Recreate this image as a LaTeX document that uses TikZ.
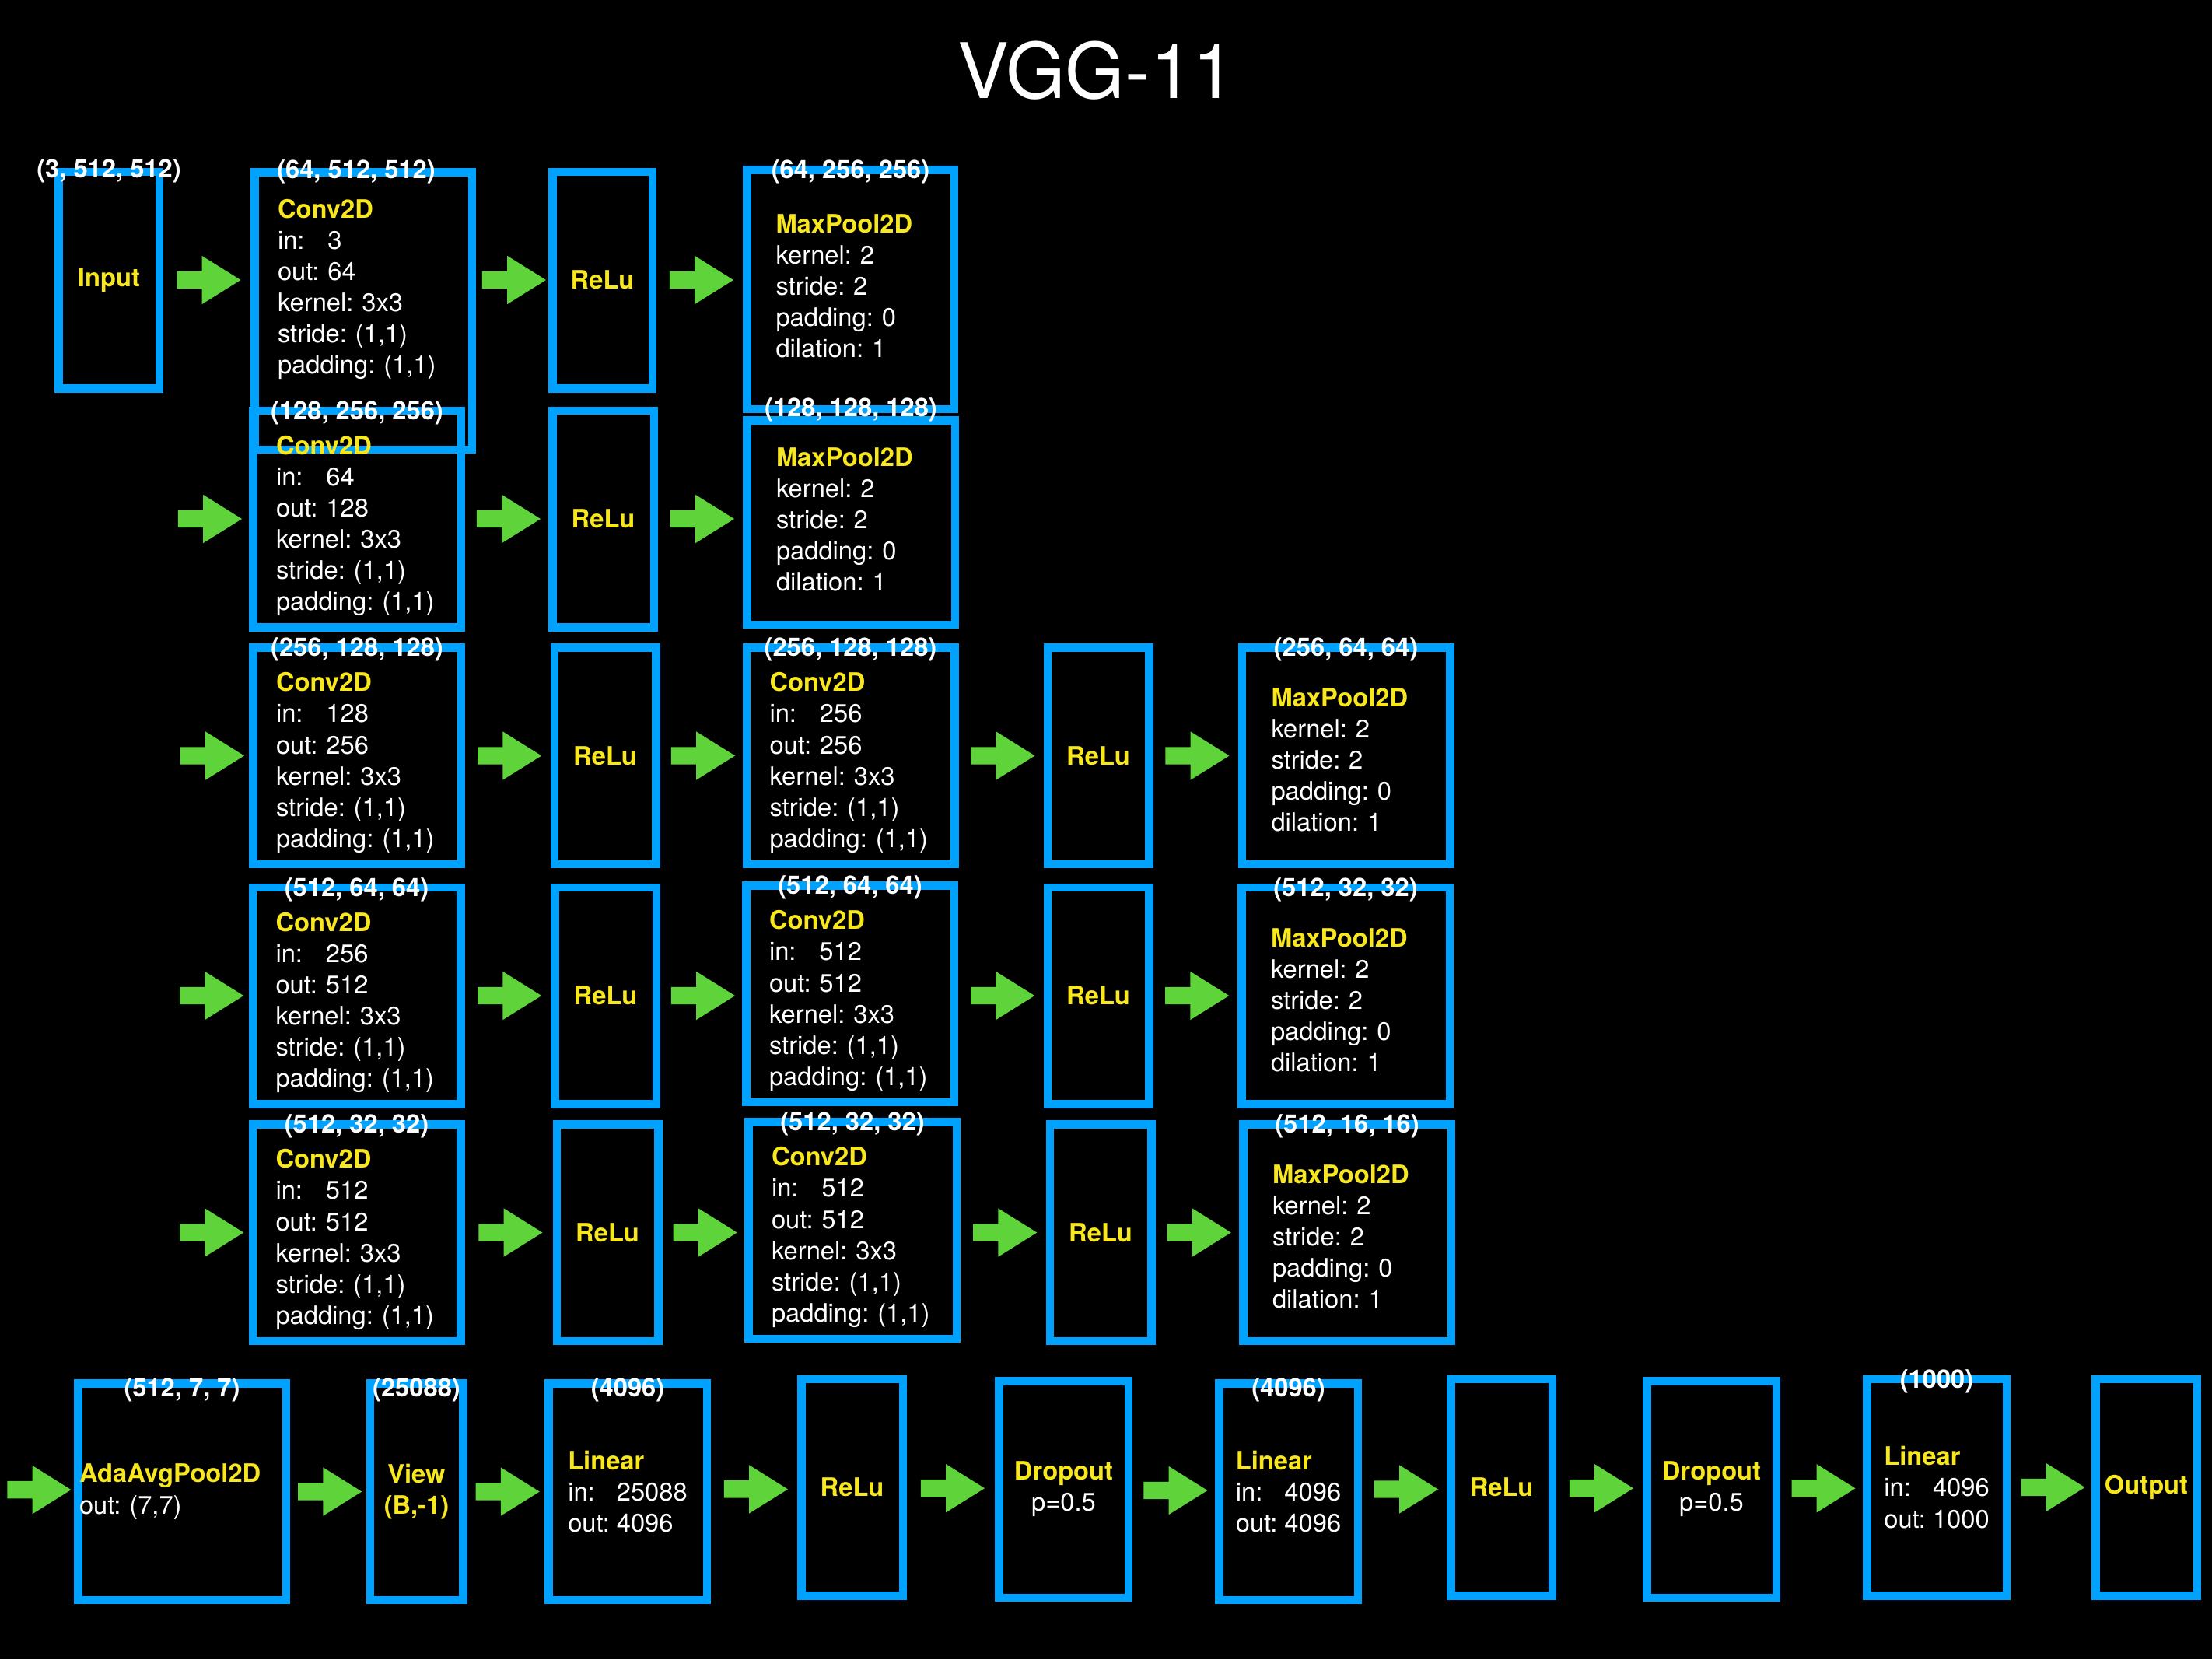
\documentclass[tikz,border=0pt]{standalone}
\usepackage{fontspec}
\setmainfont{TeX Gyre Heros}
\usepackage{xcolor}
\usepackage{tikz}
\usetikzlibrary{shapes.arrows}
\definecolor{netblue}{HTML}{00A2FF}
\definecolor{flowgreen}{HTML}{5FD43A}
\definecolor{lyryellow}{HTML}{F8E71C}
\newcommand{\bodyfont}{\fontsize{9.3}{11.4}\selectfont}
\newcommand{\lyr}[1]{{\bfseries\color{lyryellow}#1}}
\newcommand{\inlbl}{\leavevmode\rlap{in:}\hphantom{out:~}}
\newcommand{\convinfo}[2]{\lyr{Conv2D}\\\inlbl#1\\out:~#2\\kernel:~3x3\\stride:~(1,1)\\padding:~(1,1)}
\newcommand{\poolinfo}{\lyr{MaxPool2D}\\kernel:~2\\stride:~2\\padding:~0\\dilation:~1}
\newcommand{\linearinfo}[2]{\lyr{Linear}\\\inlbl#1\\out:~#2}
\tikzset{
  every node/.style={font=\bodyfont,text=white},
  layer/.style={draw=netblue,line width=1.05mm,outer sep=0.525mm,inner sep=0pt,minimum height=2.785cm},
  convbox/.style={layer,minimum width=2.675cm,text width=2.08cm,align=left,text height=12pt},
  poolbox/.style={layer,minimum width=2.675cm,text width=1.92cm,align=left,text height=10pt},
  fcbox/.style={layer,align=left},
  actbox/.style={layer,minimum width=1.305cm,align=center,font=\bodyfont\bfseries,text=lyryellow},
  dropbox/.style={layer,minimum width=1.665cm,align=center},
  dimlbl/.style={font=\bodyfont\bfseries,anchor=center,inner sep=0pt,outer sep=0pt,yshift=-0.08cm},
  flow/.style={single arrow,fill=flowgreen,inner xsep=0pt,inner ysep=0.105cm,outer sep=0pt,minimum height=0.82cm,
    single arrow head extend=0.2cm,single arrow tip angle=64,xshift=-0.065cm},
  title/.style={font=\fontsize{28}{34}\selectfont}
}
\begin{document}
\begin{tikzpicture}[x=1cm,y=-1cm]
  \useasboundingbox (0,0) rectangle (28.44,21.33);
  \fill[black] (0,0) rectangle (28.44,21.33);
  \node[title,anchor=base] (title) at (14.10,1.26) {VGG-11};

  % block 1
  \node[actbox,minimum width=1.295cm,label={[dimlbl,yshift=0.035cm]north:{(3, 512, 512)}}] (in1) at (1.40,3.60) {Input};
  \node[convbox,minimum width=2.795cm,minimum height=3.565cm,text width=2.20cm,text depth=2.80cm,
    label={[dimlbl,xshift=-0.09cm,yshift=0.035cm]north:{(64, 512, 512)}}] (conv1) at (4.67,3.995) {\convinfo{3}{64}};
  \node[actbox,minimum width=1.285cm] (relu1) at (7.745,3.60) {ReLu};
  \node[poolbox,minimum width=2.665cm,minimum height=3.075cm,text depth=1.80cm,label={[dimlbl]north:{(64, 256, 256)}}] (pool1) at (10.935,3.72) {\poolinfo};

  % block 2
  \coordinate (r2in) at (2.15,6.67);
  \node[convbox,label={[dimlbl]north:{(128, 256, 256)}}] (conv2) at (4.59,6.67) {\convinfo{64}{128}};
  \node[actbox] (relu2) at (7.755,6.67) {ReLu};
  \node[poolbox,minimum height=2.625cm,text depth=1.80cm,label={[dimlbl,yshift=0.16cm]north:{(128, 128, 128)}}] (pool2) at (10.94,6.715) {\poolinfo};

  % block 3
  \coordinate (r3in) at (2.21,9.715);
  \node[convbox,label={[dimlbl]north:{(256, 128, 128)}}] (conv3a) at (4.59,9.715) {\convinfo{128}{256}};
  \node[actbox] (relu3a) at (7.78,9.715) {ReLu};
  \node[convbox,label={[dimlbl]north:{(256, 128, 128)}}] (conv3b) at (10.935,9.715) {\convinfo{256}{256}};
  \node[actbox] (relu3b) at (14.12,9.715) {ReLu};
  \node[poolbox,label={[dimlbl]north:{(256, 64, 64)}}] (pool3) at (17.305,9.715) {\poolinfo};

  % block 4
  \coordinate (r4in) at (2.20,12.80);
  \node[convbox,label={[dimlbl]north:{(512, 64, 64)}}] (conv4a) at (4.585,12.80) {\convinfo{256}{512}};
  \node[actbox] (relu4a) at (7.785,12.80) {ReLu};
  \node[convbox,label={[dimlbl]north:{(512, 64, 64)}}] (conv4b) at (10.93,12.775) {\convinfo{512}{512}};
  \node[actbox] (relu4b) at (14.12,12.80) {ReLu};
  \node[poolbox,label={[dimlbl]north:{(512, 32, 32)}}] (pool4) at (17.30,12.80) {\poolinfo};

  % block 5
  \coordinate (r5in) at (2.20,15.845);
  \node[convbox,label={[dimlbl]north:{(512, 32, 32)}}] (conv5a) at (4.585,15.845) {\convinfo{512}{512}};
  \node[actbox] (relu5a) at (7.81,15.845) {ReLu};
  \node[convbox,label={[dimlbl]north:{(512, 32, 32)}}] (conv5b) at (10.96,15.815) {\convinfo{512}{512}};
  \node[actbox] (relu5b) at (14.15,15.845) {ReLu};
  \node[poolbox,label={[dimlbl]north:{(512, 16, 16)}}] (pool5) at (17.32,15.845) {\poolinfo};

  % classifier
  \coordinate (r6in) at (0.01,19.145);
  \node[fcbox,minimum width=2.675cm,text width=2.64cm,label={[dimlbl,yshift=-0.06cm]north:{(512, 7, 7)}}] (ada) at (2.34,19.175) {\lyr{AdaAvgPool2D}\\out:~(7,7)};
  \node[actbox,minimum width=1.195cm,label={[dimlbl,yshift=-0.06cm,text=white]north:{(25088)}}] (view) at (5.355,19.175) {View\\(B,-1)};
  \node[fcbox,minimum width=2.035cm,label={[dimlbl,yshift=-0.06cm]north:{(4096)}}] (lin1) at (8.07,19.175) {\linearinfo{25088}{4096}};
  \node[actbox] (relu6a) at (10.955,19.12) {ReLu};
  \node[dropbox] (drop1) at (13.675,19.145) {\lyr{Dropout}\\p=0.5};
  \node[fcbox,minimum width=1.785cm,label={[dimlbl,yshift=-0.06cm]north:{(4096)}}] (lin2) at (16.565,19.175) {\linearinfo{4096}{4096}};
  \node[actbox] (relu6b) at (19.305,19.12) {ReLu};
  \node[dropbox] (drop2) at (22.005,19.145) {\lyr{Dropout}\\p=0.5};
  \node[fcbox,minimum width=1.795cm,label={[dimlbl]north:{(1000)}}] (lin3) at (24.90,19.12) {\linearinfo{4096}{1000}};
  \node[actbox] (out) at (27.595,19.12) {Output};

  % flow arrows
  \path (in1) -- node[flow,midway]{} (in1 -| conv1.west);
  \path (conv1.east |- relu1) -- node[flow,midway]{} (relu1);
  \path (relu1) -- node[flow,midway]{} (relu1 -| pool1.west);

  \path (r2in) -- node[flow,midway]{} (conv2);
  \path (conv2) -- node[flow,midway]{} (relu2);
  \path (relu2) -- node[flow,midway]{} (relu2 -| pool2.west);

  \path (r3in) -- node[flow,midway]{} (conv3a);
  \path (conv3a) -- node[flow,midway]{} (relu3a);
  \path (relu3a) -- node[flow,midway]{} (conv3b);
  \path (conv3b) -- node[flow,midway]{} (relu3b);
  \path (relu3b) -- node[flow,midway]{} (pool3);

  \path (r4in) -- node[flow,midway]{} (conv4a);
  \path (conv4a) -- node[flow,midway]{} (relu4a);
  \path (relu4a) -- node[flow,midway]{} (relu4a -| conv4b.west);
  \path (conv4b.east |- relu4b) -- node[flow,midway]{} (relu4b);
  \path (relu4b) -- node[flow,midway]{} (pool4);

  \path (r5in) -- node[flow,midway]{} (conv5a);
  \path (conv5a) -- node[flow,midway]{} (relu5a);
  \path (relu5a) -- node[flow,midway]{} (relu5a -| conv5b.west);
  \path (conv5b.east |- relu5b) -- node[flow,midway]{} (relu5b);
  \path (relu5b) -- node[flow,midway]{} (pool5);

  \path (r6in) -- node[flow,midway]{} (ada);
  \path (ada) -- node[flow,midway]{} (view);
  \path (view) -- node[flow,midway]{} (lin1);
  \path (lin1) -- node[flow,midway]{} (relu6a);
  \path (relu6a) -- node[flow,midway]{} (drop1);
  \path (drop1) -- node[flow,midway]{} (lin2);
  \path (lin2) -- node[flow,midway]{} (relu6b);
  \path (relu6b) -- node[flow,midway]{} (drop2);
  \path (drop2) -- node[flow,midway]{} (lin3);
  \path (lin3) -- node[flow,midway]{} (out);
\end{tikzpicture}
\end{document}
